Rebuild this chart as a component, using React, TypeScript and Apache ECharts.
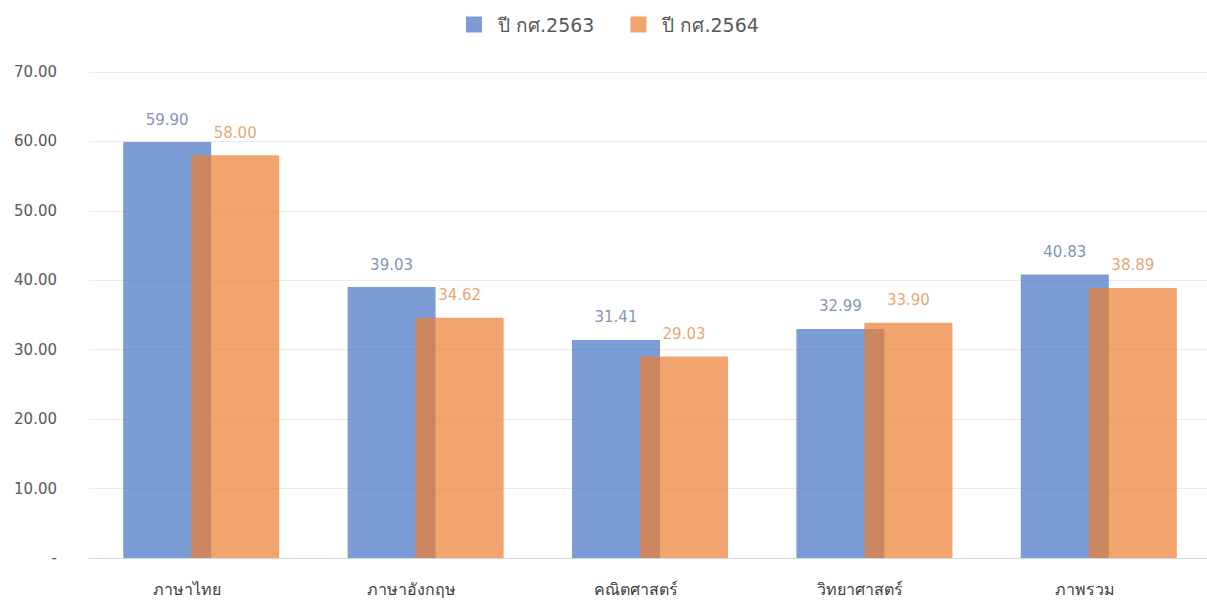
import React, { useEffect, useRef } from "react";
import * as echarts from "echarts";

const categories = ["ภาษาไทย", "ภาษาอังกฤษ", "คณิตศาสตร์", "วิทยาศาสตร์", "ภาพรวม"];
const series2563 = [59.9, 39.03, 31.41, 32.99, 40.83];
const series2564 = [58.0, 34.62, 29.03, 33.9, 38.89];
const seriesNames = ["ปี กศ.2563", "ปี กศ.2564"];
const yTicks = [0, 10, 20, 30, 40, 50, 60, 70];

const FONT = "Tahoma, 'DejaVu Sans', 'Noto Sans', 'Open Sans', sans-serif";

export default function App() {
  const ref = useRef<HTMLDivElement>(null);
  useEffect(() => {
    if (!ref.current) return;
    const chart = echarts.init(ref.current, undefined, { renderer: "svg" });
    chart.setOption({
      animation: false,
      textStyle: { fontFamily: FONT },
      legend: {
        top: 10,
        left: 461,
        itemWidth: 16,
        itemHeight: 16,
        itemGap: 36,
        icon: "rect",
        textStyle: {
          fontSize: 19,
          color: "#595959",
          fontFamily: FONT,
          padding: [0, 0, 0, 11],
        },
        data: seriesNames,
      },
      grid: { left: 89, right: 0, top: 72, bottom: 47, containLabel: false },
      xAxis: {
        type: "category",
        data: categories,
        axisLine: { lineStyle: { color: "#d9d9d9", width: 1 } },
        axisTick: { show: false },
        axisLabel: {
          fontSize: 16,
          color: "#404040",
          margin: 23,
          padding: [0, 28, 0, 0],
          fontFamily: FONT,
        },
      },
      yAxis: {
        type: "value",
        min: yTicks[0],
        max: yTicks[yTicks.length - 1],
        interval: 10,
        axisLine: { show: false },
        axisTick: { show: false },
        splitLine: { lineStyle: { color: "#ececec", width: 1 } },
        axisLabel: {
          fontSize: 15,
          color: "#595959",
          margin: 32,
          fontFamily: FONT,
          formatter: (v: number) => (v === 0 ? "-" : v.toFixed(2)),
        },
      },
      series: [
        {
          name: seriesNames[0],
          type: "bar",
          data: series2563,
          barWidth: 88,
          barGap: "-22.7%",
          itemStyle: { color: "#4472C4", opacity: 0.7 },
          label: {
            show: true,
            position: "top",
            distance: 15,
            fontSize: 15,
            color: "#44649a",
            fontFamily: FONT,
            formatter: (p: any) => Number(p.value).toFixed(2),
          },
        },
        {
          name: seriesNames[1],
          type: "bar",
          data: series2564,
          barWidth: 88,
          barGap: "-22.7%",
          itemStyle: { color: "#ED7D31", opacity: 0.7 },
          label: {
            show: true,
            position: "top",
            distance: 15,
            fontSize: 15,
            color: "#dc7d35",
            fontFamily: FONT,
            formatter: (p: any) => Number(p.value).toFixed(2),
          },
        },
      ],
    });
    return () => chart.dispose();
  }, []);
  return (
    <div
      style={{
        position: "fixed",
        left: 0,
        top: 0,
        width: 1207,
        height: 605,
        overflow: "hidden",
        background: "#ffffff",
      }}
    >
      <div ref={ref} style={{ width: 1211, height: 605 }} />
    </div>
  );
}
